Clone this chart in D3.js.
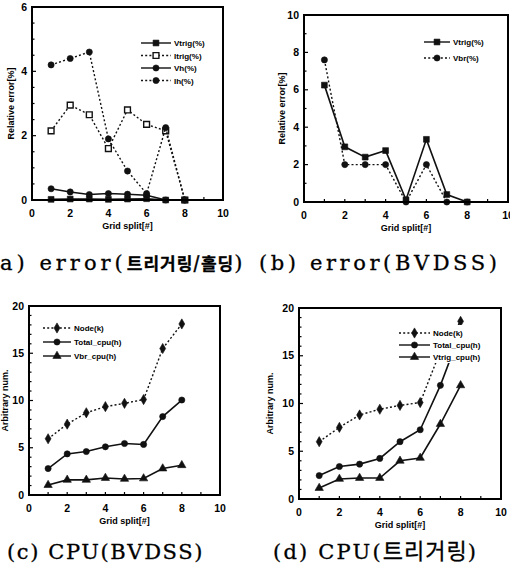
<!DOCTYPE html>
<html lang="ko">
<head>
<meta charset="utf-8">
<title>Grid split charts</title>
<script src="https://cdn.jsdelivr.net/npm/d3@7/dist/d3.min.js"></script>
<style>
  body { margin: 0; background: #fff; }
  svg { display: block; }
  .tick-label { font-family: "Liberation Sans", Arial, sans-serif; font-weight: bold; font-size: 10.5px; }
  .axis-title { font-family: "Liberation Sans", Arial, sans-serif; font-weight: bold; font-size: 9px; }
  .legend-text { font-family: "Liberation Sans", Arial, sans-serif; font-weight: bold; font-size: 8px; }
  .caption { font-family: "DejaVu Serif", serif; font-size: 21px; fill: #000; stroke: #000; stroke-width: 0.3; }
  .caption .ko { font-family: "Noto Sans CJK KR", sans-serif; }
</style>
</head>
<body>
<script>
// grid split values shared by every panel
var gridSplit = [1, 2, 3, 4, 5, 6, 7, 8];

// (a) error, trigger / holding
var vtrigA = [0.02, 0.03, 0.03, 0.02, 0.03, 0.04, 0, 0];
var itrigA = [2.15, 2.95, 2.65, 1.6, 2.8, 2.35, 2.15, 0];
var vhA = [0.35, 0.25, 0.17, 0.2, 0.18, 0.15, 0, 0];
var ihA = [4.2, 4.4, 4.6, 1.9, 0.9, 0.2, 2.25, 0];

// (b) error, BVDSS
var vtrigB = [6.25, 2.95, 2.4, 2.75, 0.12, 3.35, 0.4, 0];
var vbrB = [7.6, 2.0, 2.0, 2.0, 0, 2.0, 0, 0];

// (c) cpu, BVDSS
var nodeC = [5.95, 7.5, 8.7, 9.35, 9.7, 10.1, 15.5, 18.1];
var totalC = [2.8, 4.35, 4.6, 5.1, 5.45, 5.35, 8.3, 10.05];
var vbrCpuC = [1.05, 1.6, 1.6, 1.8, 1.7, 1.75, 2.8, 3.15];

// (d) cpu, trigger
var nodeD = [6.0, 7.5, 8.8, 9.4, 9.8, 10.1, 15.5, 18.6];
var totalD = [2.45, 3.4, 3.65, 4.25, 6.0, 7.25, 11.9, 17.5];
var vtrigCpuD = [1.15, 2.1, 2.2, 2.2, 4.0, 4.3, 7.85, 11.9];

var xTicks = [0, 2, 4, 6, 8, 10];

// caption texts, split into latin / hangul pieces
var captionTexts = [
  ["a) error(", "트리거링/홀딩", ")"],
  ["(b) error(BVDSS)"],
  ["(c) CPU(BVDSS)"],
  ["(d) CPU(", "트리거링", ")"]
];

var svg = d3.select("body").append("svg")
    .attr("width", 510)
    .attr("height", 576);

var symbols = {
  square: d3.symbol().type(d3.symbolSquare).size(34),
  open: d3.symbol().type(d3.symbolSquare).size(34),
  circle: d3.symbol().type(d3.symbolCircle).size(30),
  diamond: d3.symbol().type(d3.symbolDiamond).size(30),
  triangle: d3.symbol().type(d3.symbolTriangle).size(30)
};

function drawPanel(p) {
  var x = d3.scaleLinear().domain([0, 10]).range([p.left, p.right]);
  var y = d3.scaleLinear().domain([0, p.ymax]).range([p.bottom, p.top]);
  var g = svg.append("g");

  // inward minor ticks
  g.selectAll(".xt").data(d3.range(1, 10)).enter().append("line")
    .attr("x1", function(d) { return x(d); }).attr("x2", function(d) { return x(d); })
    .attr("y1", p.bottom).attr("y2", p.bottom - 3)
    .attr("stroke", "#000").attr("stroke-width", 1.2);
  g.selectAll(".yt").data(d3.range(p.minor, p.ymax, p.minor)).enter().append("line")
    .attr("x1", p.left).attr("x2", function(d) { return p.left + (p.yTicks.indexOf(d) >= 0 ? 4 : 2.5); })
    .attr("y1", function(d) { return y(d); }).attr("y2", function(d) { return y(d); })
    .attr("stroke", "#000").attr("stroke-width", 1.2);

  // series
  var line = d3.line().x(function(d) { return x(d[0]); }).y(function(d) { return y(d[1]); });
  p.series.forEach(function(s) {
    var pts = gridSplit.map(function(v, i) { return [v, s.values[i]]; });
    g.append("path").datum(pts)
      .attr("d", line)
      .attr("fill", "none")
      .attr("stroke", "#111")
      .attr("stroke-width", s.dotted ? 1.4 : 1.6)
      .attr("stroke-dasharray", s.dotted ? "2,2.2" : null);
    g.selectAll(null).data(pts).enter().append("path")
      .attr("d", symbols[s.marker])
      .attr("transform", function(d) { return "translate(" + x(d[0]) + "," + y(d[1]) + ")"; })
      .attr("fill", s.marker == "open" ? "#fff" : "#111")
      .attr("stroke", "#111")
      .attr("stroke-width", s.marker == "open" ? 1.4 : 0.6);
  });

  // frame
  g.append("rect")
    .attr("x", p.left).attr("y", p.top)
    .attr("width", p.right - p.left).attr("height", p.bottom - p.top)
    .attr("fill", "none").attr("stroke", "#000").attr("stroke-width", 2);

  // tick labels
  g.selectAll(".xl").data(xTicks).enter().append("text")
    .attr("class", "tick-label")
    .attr("x", function(d) { return x(d); })
    .attr("y", p.bottom + 17)
    .attr("text-anchor", "middle")
    .text(function(d) { return d; });
  g.selectAll(".yl").data(p.yTicks).enter().append("text")
    .attr("class", "tick-label")
    .attr("x", p.left - 5)
    .attr("y", function(d) { return y(d) + 3.5; })
    .attr("text-anchor", "end")
    .text(function(d) { return d; });

  g.append("text").attr("class", "axis-title")
    .attr("x", (p.left + p.right) / 2).attr("y", p.bottom + 29)
    .attr("text-anchor", "middle")
    .text("Grid split[#]");
  g.append("text").attr("class", "axis-title")
    .attr("transform", "translate(" + p.ytitleX + "," + (p.top + p.bottom) / 2 + ") rotate(-90)")
    .attr("text-anchor", "middle")
    .text(p.ytitle);

  // legend (white box in (d) hides the lines running under it)
  var lg = g.append("g").attr("transform", "translate(" + p.legend[0] + "," + p.legend[1] + ")");
  if (p.legendBg) {
    lg.append("rect").attr("x", -3).attr("y", -8)
      .attr("width", p.legendBg[0]).attr("height", p.legendBg[1])
      .attr("fill", "#fff");
  }
  p.series.forEach(function(s, i) {
    var ly = i * p.legendGap;
    lg.append("line").attr("x1", 0).attr("x2", p.legendLen).attr("y1", ly).attr("y2", ly)
      .attr("stroke", "#111").attr("stroke-width", 1.4)
      .attr("stroke-dasharray", s.dotted ? "2,2.2" : null);
    lg.append("path").attr("d", symbols[s.marker])
      .attr("transform", "translate(" + p.legendLen / 2 + "," + ly + ")")
      .attr("fill", s.marker == "open" ? "#fff" : "#111")
      .attr("stroke", "#111").attr("stroke-width", s.marker == "open" ? 1.4 : 0.6);
    lg.append("text").attr("class", "legend-text")
      .attr("x", p.legendLen + 3).attr("y", ly + 3)
      .text(s.name);
  });
}

drawPanel({
  left: 32, right: 223, top: 7, bottom: 200, ymax: 6, yTicks: [0, 2, 4, 6], minor: 0.5,
  ytitle: "Relative error[%]", ytitleX: 14,
  legend: [141, 43], legendGap: 12.5, legendLen: 30,
  series: [
    { name: "Vtrig(%)", values: vtrigA, marker: "square", dotted: false },
    { name: "Itrig(%)", values: itrigA, marker: "open", dotted: true },
    { name: "Vh(%)", values: vhA, marker: "circle", dotted: false },
    { name: "Ih(%)", values: ihA, marker: "circle", dotted: true }
  ]
});

drawPanel({
  left: 304, right: 508, top: 15, bottom: 202, ymax: 10, yTicks: [0, 2, 4, 6, 8, 10], minor: 1,
  ytitle: "Relative error[%]", ytitleX: 285,
  legend: [424, 42], legendGap: 16, legendLen: 26,
  series: [
    { name: "Vtrig(%)", values: vtrigB, marker: "square", dotted: false },
    { name: "Vbr(%)", values: vbrB, marker: "circle", dotted: true }
  ]
});

drawPanel({
  left: 29, right: 220, top: 306, bottom: 495, ymax: 20, yTicks: [0, 5, 10, 15, 20], minor: 1,
  ytitle: "Arbitrary num.", ytitleX: 8,
  legend: [43, 328], legendGap: 14, legendLen: 28,
  series: [
    { name: "Node(k)", values: nodeC, marker: "diamond", dotted: true },
    { name: "Total_cpu(h)", values: totalC, marker: "circle", dotted: false },
    { name: "Vbr_cpu(h)", values: vbrCpuC, marker: "triangle", dotted: false }
  ]
});

drawPanel({
  left: 299, right: 501, top: 308, bottom: 499, ymax: 20, yTicks: [0, 5, 10, 15, 20], minor: 1,
  ytitle: "Arbitrary num.", ytitleX: 273,
  legend: [399, 333], legendGap: 12, legendLen: 31, legendBg: [92, 38],
  series: [
    { name: "Node(k)", values: nodeD, marker: "diamond", dotted: true },
    { name: "Total_cpu(h)", values: totalD, marker: "circle", dotted: false },
    { name: "Vtrig_cpu(h)", values: vtrigCpuD, marker: "triangle", dotted: false }
  ]
});

// caption placement and spacing per caption: [x, y, latin spacing, hangul size, hangul weight]
var captionLayout = [[0, 270, 4, 17, 700], [259, 270, 3.6, 0, 400], [7, 559, 1.6, 0, 400], [273, 559, 2.2, 22, 400]];
captionTexts.forEach(function(parts, k) {
  var c = captionLayout[k];
  var t = svg.append("text").attr("class", "caption").attr("x", c[0]).attr("y", c[1]);
  parts.forEach(function(part) {
    var ko = /[\uac00-\ud7a3]/.test(part);
    t.append("tspan")
      .attr("class", ko ? "ko" : null)
      .attr("letter-spacing", ko ? 1 : c[2])
      .attr("font-size", ko ? c[3] : null)
      .attr("font-weight", ko ? c[4] : null)
      .text(part);
  });
});
</script>
</body>
</html>
